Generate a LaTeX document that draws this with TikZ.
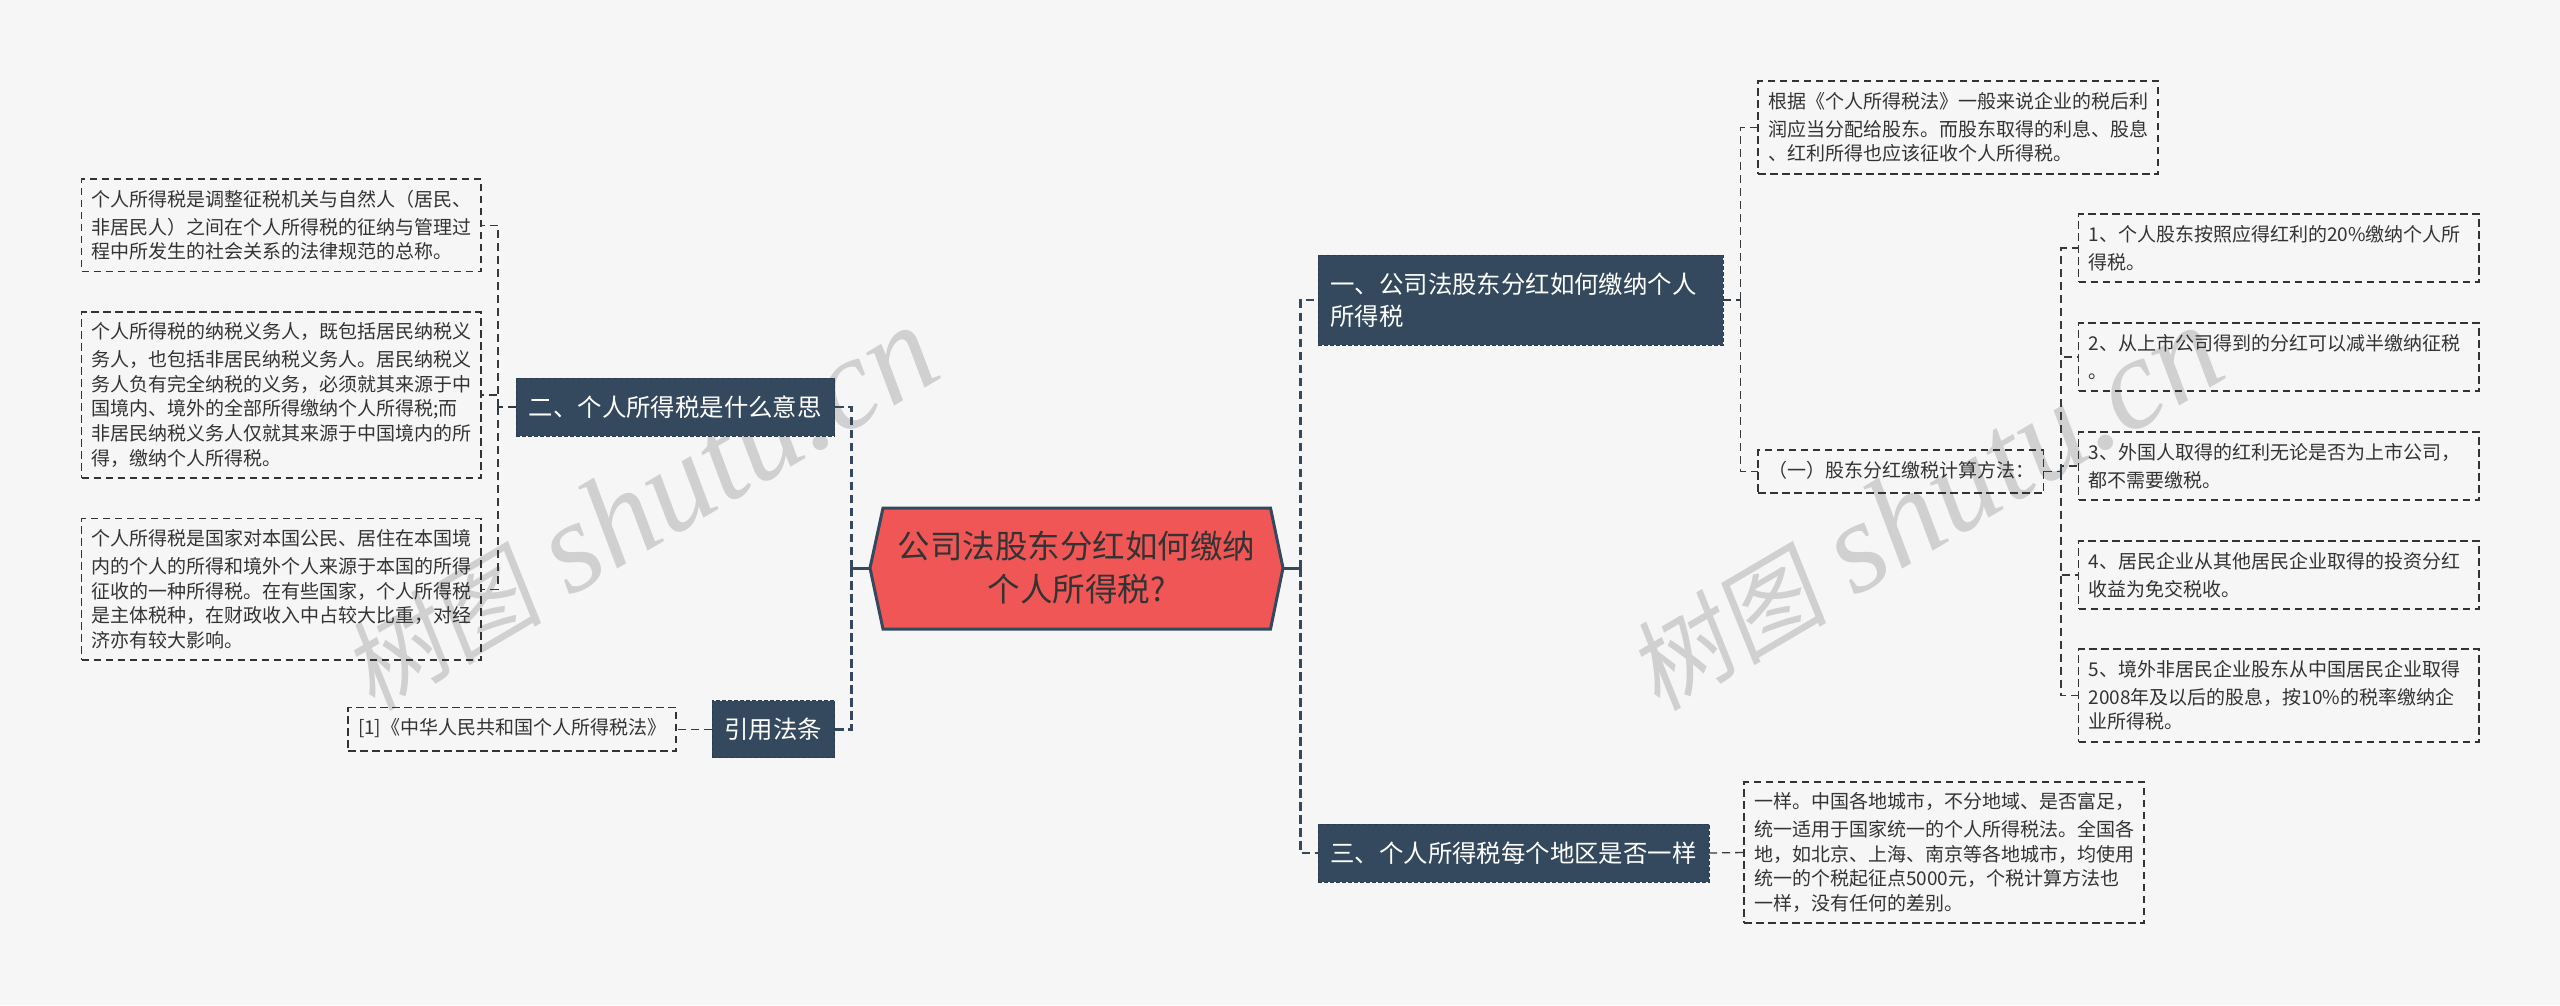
\documentclass[tikz,border=0pt]{standalone}
\usepackage{fontspec}
\setmainfont{Noto Sans CJK SC}
\newfontfamily\wmlatin[ItalicFont=* Italic]{Liberation Serif}
\newfontfamily\wmcjk[FakeSlant=0.15]{Noto Sans CJK SC}
\definecolor{bgc}{HTML}{F6F6F6}
\definecolor{navy}{HTML}{34495E}
\definecolor{navyd}{HTML}{2A3C4E}
\definecolor{redf}{HTML}{F05656}
\definecolor{txt}{HTML}{333333}
\definecolor{wm}{HTML}{D0D0D0}
\tikzset{
  x=1pt,y=-1pt,
  leaf/.style 2 args={draw=txt,line width=1.5pt,dash pattern=on 7.5pt off 4.5pt,text=txt,
    minimum width=#1 pt,text width=#1 pt-20pt,minimum height=#2 pt,inner xsep=10pt,inner ysep=0pt,outer sep=0pt,
    align=left,font=\fontsize{19}{24.7}\selectfont,execute at begin node={\vspace*{3pt}}},
  topicbox/.style 2 args={draw=navyd,fill=navy,line width=1pt,dash pattern=on 4pt off 2pt,text=white,
    minimum width=#1 pt,minimum height=#2 pt,inner sep=0pt,outer sep=0pt,align=left,
    font=\fontsize{24.4}{32}\selectfont},
  rootshape/.style={draw=navy,fill=redf,line width=3pt,line join=miter},
  roottext/.style={text=txt,minimum width=413pt,minimum height=121pt,inner sep=0pt,outer sep=0pt,align=center,
    font=\fontsize{32.5}{43}\selectfont},
  mainconn/.style={draw=navy,line width=2.4pt,dash pattern=on 8.5pt off 4.5pt},
  rootstub/.style={draw=navy,line width=3pt},
  subconn/.style={draw=txt!70!navy,line width=1.3pt,dash pattern=on 8pt off 5pt},
  watermark/.style={text=wm,rotate=30.5,anchor=base west,inner sep=0pt},
}
\newcommand{\wmtext}{{\fontsize{100}{100}\selectfont\wmcjk 树图}\hspace{28pt}{\fontsize{130}{130}\selectfont\wmlatin\itshape shutu.cn}}
\begin{document}
\begin{tikzpicture}
\useasboundingbox (0,0) rectangle (2560,1005);
\fill[bgc] (0,0) rectangle (2560,1005);

% watermarks (behind everything)
\node[watermark] (w1) at (373,713) {\wmtext};
\node[watermark] (w2) at (1658,713) {\wmtext};

% root
\coordinate (hL) at (870,568);\coordinate (hTL) at (883,508);\coordinate (hTR) at (1270.5,508);
\coordinate (hR) at (1283,568);\coordinate (hBR) at (1270.5,629);\coordinate (hBL) at (883,629);
\draw[rootshape] (hL)--(hTL)--(hTR)--(hR)--(hBR)--(hBL)--cycle;
\node[roottext] (root) at (1076.5,568) {公司法股东分红如何缴纳\\个人所得税?};

% left branch
\node[topicbox={318.5}{58},align=center] (n2) at (675.25,407) {二、个人所得税是什么意思};
\node[topicbox={122.5}{57},align=center] (nref) at (773.25,729.4) {引用法条};
\node[leaf={399.5}{92.5}] (a1) at (281.25,225.25) {个人所得税是调整征税机关与自然人（居民、\\非居民人）之间在个人所得税的征纳与管理过\\程中所发生的社会关系的法律规范的总称。};
\node[leaf={399.5}{166}] (a2) at (281.25,395) {个人所得税的纳税义务人，既包括居民纳税义\\务人，也包括非居民纳税义务人。居民纳税义\\务人负有完全纳税的义务，必须就其来源于中\\国境内、境外的全部所得缴纳个人所得税;而\\非居民纳税义务人仅就其来源于中国境内的所\\得，缴纳个人所得税。};
\node[leaf={399.5}{141.5}] (a3) at (281.25,589.3) {个人所得税是国家对本国公民、居住在本国境\\内的个人的所得和境外个人来源于本国的所得\\征收的一种所得税。在有些国家，个人所得税\\是主体税种，在财政收入中占较大比重，对经\\济亦有较大影响。};
\node[leaf={328}{43.5}] (r1) at (512,729.4) {[1]《中华人民共和国个人所得税法》};

% right branch
\node[topicbox={405}{90},text width=380pt] (n1) at (1520.5,300) {一、公司法股东分红如何缴纳个人\\所得税};
\node[topicbox={391}{58},align=center] (n3) at (1513.5,853) {三、个人所得税每个地区是否一样};
\node[leaf={400}{93}] (b1) at (1958,127.5) {根据《个人所得税法》一般来说企业的税后利\\润应当分配给股东。而股东取得的利息、股息\\、红利所得也应该征收个人所得税。};
\node[leaf={285.5}{43},align=center] (b2) at (1900.75,471.5) {（一）股东分红缴税计算方法：};
\node[leaf={400.5}{68}] (c1) at (2278.75,248) {1、个人股东按照应得红利的20\%缴纳个人所\\得税。};
\node[leaf={400.5}{68}] (c2) at (2278.75,357) {2、从上市公司得到的分红可以减半缴纳征税\\。};
\node[leaf={400.5}{68}] (c3) at (2278.75,466) {3、外国人取得的红利无论是否为上市公司，\\都不需要缴税。};
\node[leaf={400.5}{68}] (c4) at (2278.75,575) {4、居民企业从其他居民企业取得的投资分红\\收益为免交税收。};
\node[leaf={400.5}{93}] (c5) at (2278.75,695.5) {5、境外非居民企业股东从中国居民企业取得\\2008年及以后的股息，按10\%的税率缴纳企\\业所得税。};
\node[leaf={400}{141}] (d1) at (1944,852.5) {一样。中国各地城市，不分地域、是否富足，\\统一适用于国家统一的个人所得税法。全国各\\地，如北京、上海、南京等各地城市，均使用\\统一的个税起征点5000元，个税计算方法也\\一样，没有任何的差别。};

% buses
\coordinate (busL) at (851.5,568);
\coordinate (busR) at (1300.5,568);
\coordinate (busA) at (498,407);
\coordinate (busB) at (1740.5,300);
\coordinate (busC) at (2061,471.5);

% connectors
\draw[rootstub] (root.west) -- (busL);
\draw[rootstub] (root.east) -- (busR);
\draw[mainconn] (busL) |- (n2.east);
\draw[mainconn] (busL) |- (nref.east);
\draw[mainconn] (busR) |- (n1.west);
\draw[mainconn] (busR) |- (n3.west);
\draw[subconn] (n2.west) -- (busA);
\draw[subconn] (busA) |- (a1.east);
\draw[subconn] (busA) |- (a2.east);
\draw[subconn] (busA) |- (a3.east);
\draw[subconn] (nref.west) -- (r1.east);
\draw[subconn] (n1.east) -- (busB);
\draw[subconn] (busB) |- (b1.west);
\draw[subconn] (busB) |- (b2.west);
\draw[subconn] (b2.east) -- (busC);
\draw[subconn] (busC) |- (c1.west);
\draw[subconn] (busC) |- (c2.west);
\draw[subconn] (busC) |- (c3.west);
\draw[subconn] (busC) |- (c4.west);
\draw[subconn] (busC) |- (c5.west);
\draw[subconn] (n3.east) -- (d1.west);
\end{tikzpicture}
\end{document}
